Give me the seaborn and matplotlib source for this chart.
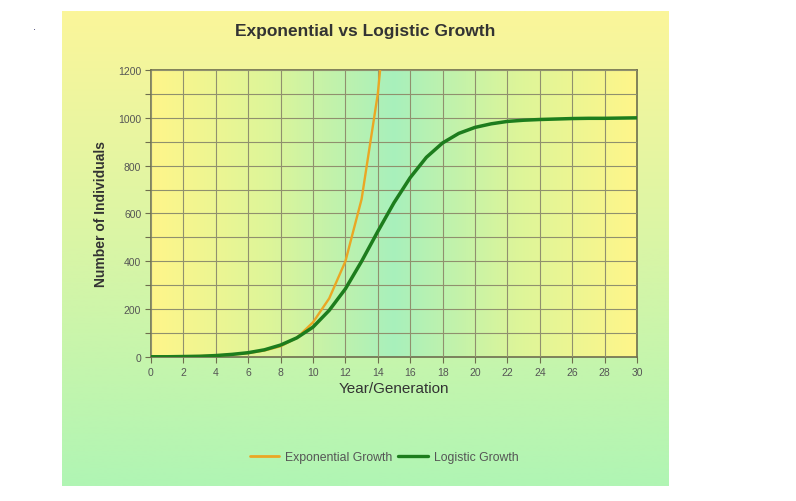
import numpy as np
import pandas as pd
import matplotlib.pyplot as plt
import matplotlib.colors as mcolors
import seaborn as sns

# --------------------------
# Data
# --------------------------
years = list(range(0, 31))
exp_years = list(range(0, 16))
exponential = [1, 2, 3, 4, 6, 10, 16, 27, 45, 80, 145, 245, 400, 660, 1100, 1800]
logistic = [1, 1, 2, 3, 6, 11, 18, 30, 50, 80, 125, 195, 285, 400, 525, 645,
            750, 835, 895, 935, 960, 975, 985, 990, 993, 995, 997, 998, 998,
            999, 1000]

x_ticks = list(range(0, 31, 2))
y_ticks = list(range(0, 1201, 200))

df = pd.concat([
    pd.DataFrame({"Year": exp_years, "Count": exponential,
                  "Series": "Exponential Growth"}),
    pd.DataFrame({"Year": years, "Count": logistic,
                  "Series": "Logistic Growth"}),
])

sns.set_theme(style="white")
plt.rcParams["font.family"] = ["Liberation Sans", "DejaVu Sans"]

W, H = 796, 502
fig = plt.figure(figsize=(W / 100, H / 100), dpi=100)
fig.patch.set_facecolor("white")

# --------------------------
# Outer panel: vertical yellow -> green gradient
# --------------------------
bg = fig.add_axes([62 / W, 1 - 487 / H, 607 / W, 475 / H])
panel_cmap = mcolors.LinearSegmentedColormap.from_list(
    "panel", ["#fbf69a", "#d9f5a6", "#b0f5b4"])
bg.imshow(np.linspace(0, 1, 256).reshape(-1, 1), cmap=panel_cmap,
          aspect="auto", extent=[0, 1, 0, 1], origin="upper")
bg.set_axis_off()

# --------------------------
# Plot area
# --------------------------
ax = fig.add_axes([151 / W, 1 - 358 / H, 486 / W, 287 / H])
ax.set_facecolor("none")
area_cmap = mcolors.LinearSegmentedColormap.from_list(
    "area", ["#fff68a", "#dcf59a", "#a8f0bc", "#dcf59a", "#fff68a"])
ax.imshow(np.linspace(0, 1, 256).reshape(1, -1), cmap=area_cmap,
          aspect="auto", extent=[0, 30, 0, 1200], zorder=0)

sns.lineplot(data=df, x="Year", y="Count", hue="Series",
             palette={"Exponential Growth": "#eaa724",
                      "Logistic Growth": "#1d7d1d"},
             ax=ax, zorder=3, legend=False)
for line, lw in zip(ax.get_lines(), [1.7, 2.5]):
    line.set_linewidth(lw)
    line.set_solid_joinstyle("round")

ax.set_xlim(0, 30)
ax.set_ylim(0, 1200)
ax.set_xticks(x_ticks)
ax.set_yticks(y_ticks)
ax.set_yticks(range(0, 1201, 100), minor=True)
ax.grid(True, which="both", color="#90906e", linewidth=0.8, zorder=1)
ax.set_axisbelow(False)
for sp in ax.spines.values():
    sp.set_color("#6e6e4e")
    sp.set_linewidth(1.2)
ax.tick_params(axis="both", which="major", length=4, width=0.8,
               color="#6e6e4e", labelsize=7.5, labelcolor="#555555", pad=3,
               bottom=True, left=True)
ax.tick_params(axis="y", which="minor", length=4, width=0.8,
               color="#6e6e4e", left=True)

ax.set_xlabel("Year/Generation", fontsize=11, color="#333333", labelpad=3)
ax.set_ylabel("Number of Individuals", fontsize=10, fontweight="bold",
              color="#333333", labelpad=7)
fig.text(365 / W, 1 - 32 / H, "Exponential vs Logistic Growth",
         ha="center", va="center", fontsize=12.5, fontweight="bold",
         color="#333333")

# --------------------------
# Legend
# --------------------------
handles = [plt.Line2D([], [], color="#eaa724", lw=2),
           plt.Line2D([], [], color="#1d7d1d", lw=2.4)]
fig.legend(handles, ["Exponential Growth", "Logistic Growth"],
           loc="center", bbox_to_anchor=(384 / W, 1 - 458 / H), ncol=2,
           frameon=False, fontsize=8.8, handlelength=2.4, handletextpad=0.5,
           columnspacing=0.5, labelcolor="#555555")

fig.text(33 / W, 1 - 30 / H, ".", fontsize=8, color="#333366")

fig.savefig("out.png", dpi=100)
